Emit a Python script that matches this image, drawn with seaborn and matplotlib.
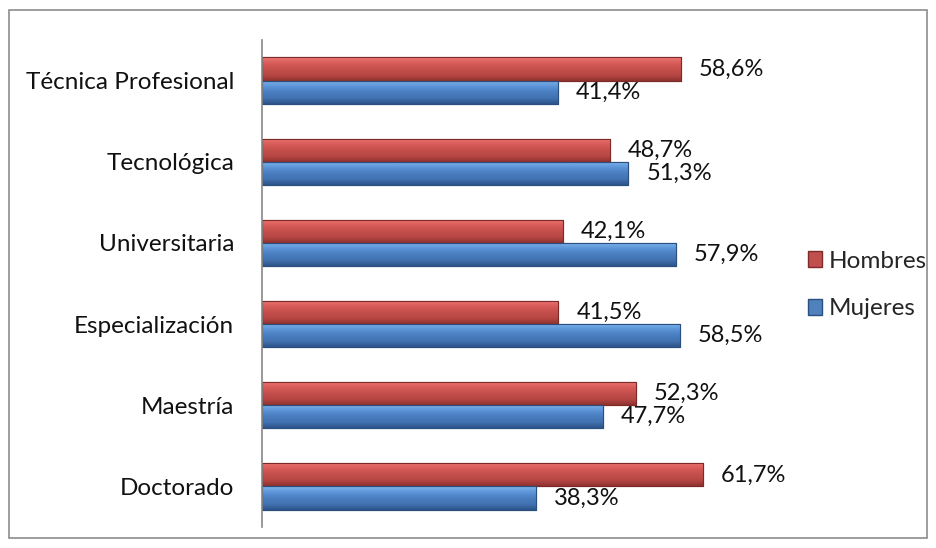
import matplotlib
matplotlib.use("Agg")
import matplotlib.pyplot as plt
import seaborn as sns
import pandas as pd
import numpy as np
from matplotlib.patches import Rectangle, Patch
from matplotlib.colors import LinearSegmentedColormap

categories = ["Técnica Profesional", "Tecnológica", "Universitaria",
              "Especialización", "Maestría", "Doctorado"]
hombres = [58.6, 48.7, 42.1, 41.5, 52.3, 61.7]
mujeres = [41.4, 51.3, 57.9, 58.5, 47.7, 38.3]
series = ["Hombres", "Mujeres"]
colors = {"Hombres": "#C0504D", "Mujeres": "#4F81BD"}
edges = {"Hombres": "#7E2A28", "Mujeres": "#2A4E7E"}
grads = {
    "Hombres": ["#EE7875", "#D85B58", "#C44F4C", "#B84744", "#8E322F"],
    "Mujeres": ["#80B8F0", "#5C95D8", "#4A7EC0", "#4273B2", "#2C5488"],
}

df = pd.DataFrame({
    "Nivel": categories * 2,
    "Serie": ["Hombres"] * len(categories) + ["Mujeres"] * len(categories),
    "Valor": hombres + mujeres,
})

sns.set_style("white")
plt.rcParams["font.family"] = ["Lato", "DejaVu Sans"]

fig = plt.figure(figsize=(9.36, 5.48), dpi=100)
ax = fig.add_axes([262 / 936, 1 - 527 / 548, 500 / 936, 487 / 548])

sns.barplot(data=df, y="Nivel", x="Valor", hue="Serie", hue_order=series,
            order=categories, palette=colors, orient="h", width=0.57,
            ax=ax, legend=False, linewidth=0.8, saturation=1)

grad = np.linspace(0, 1, 64).reshape(-1, 1)
for cont, s in zip(ax.containers, series):
    cmap = LinearSegmentedColormap.from_list(s, grads[s])
    for bar in cont:
        bar.set_edgecolor(edges[s])
        x0, y0 = bar.get_x(), bar.get_y()
        w, h = bar.get_width(), bar.get_height()
        im = ax.imshow(grad, cmap=cmap, aspect="auto", origin="upper",
                       extent=(x0, x0 + w, y0 + h, y0), zorder=bar.get_zorder() + 0.1,
                       interpolation="bicubic")
        im.set_clip_path(bar)
        edge = Rectangle((x0, y0), w, h, fill=False, edgecolor=edges[s],
                         linewidth=0.8, zorder=bar.get_zorder() + 0.2)
        ax.add_patch(edge)
    labels = [f"{v:.1f}%".replace(".", ",") for v in cont.datavalues]
    ax.bar_label(cont, labels=labels, padding=13, fontsize=17, color="#111111")

ax.set_xlim(0, 70)
ax.set_ylim(5.5, -0.5)
ax.set_xlabel("")
ax.set_ylabel("")
ax.set_xticks([])
for sp in ["top", "right", "bottom"]:
    ax.spines[sp].set_visible(False)
ax.spines["left"].set_color("#888888")
ax.spines["left"].set_linewidth(1.2)
ax.tick_params(axis="y", length=0, pad=20, labelsize=17.5, labelcolor="#111111")

handles = [Patch(facecolor=colors[s], edgecolor=edges[s], label=s) for s in series]
fig.legend(handles=handles, loc="center left", bbox_to_anchor=(798 / 936, 1 - 285 / 548),
           frameon=False, fontsize=17.5, handlelength=0.6, handleheight=0.6,
           handletextpad=0.25, labelspacing=1.1, borderaxespad=0)

fig.patches.append(Rectangle((9 / 936, 1 - 538 / 548), 918 / 936, 528 / 548,
                             transform=fig.transFigure, fill=False,
                             edgecolor="#8C8C8C", linewidth=1.2))

fig.savefig("out.png", dpi=100)
